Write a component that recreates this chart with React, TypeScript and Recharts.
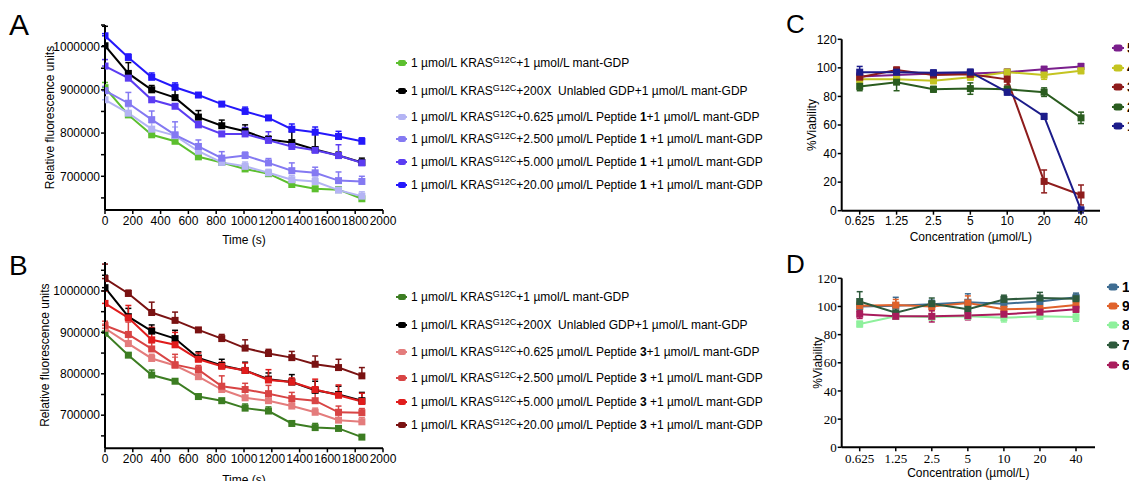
import { LineChart, Line, XAxis, YAxis, ErrorBar } from 'recharts';

const FONT = '"Liberation Sans", Arial, Helvetica, sans-serif';
const SERIF = '"Liberation Serif", "Times New Roman", serif';

// ---- time course panels (A, B) ----
const TIME_S = [0, 168, 336, 504, 672, 840, 1008, 1176, 1344, 1512, 1680, 1848];
const TIME_TICKS = [0, 200, 400, 600, 800, 1000, 1200, 1400, 1600, 1800, 2000];
const RFU_TICKS = [650000, 700000, 750000, 800000, 850000, 900000, 950000, 1000000, 1050000];
const RFU_LABELLED = [700000, 800000, 900000, 1000000];

// panel A (peptide 1)
const A_MANT = [905000, 842000, 796000, 781000, 745000, 732000, 717000, 706000, 681000, 671000, 669000, 648000];
const A_MANT_ERR = [12000, 5000, 5000, 5000, 5000, 5000, 10000, 5000, 5000, 5000, 5000, 5000];
const A_UNLABELED = [1002000, 938000, 900000, 882000, 837000, 817000, 804000, 785000, 778000, 762000, 748000, 732000];
const A_UNLABELED_ERR = [45000, 25000, 10000, 20000, 15000, 13000, 15000, 8000, 25000, 38000, 8000, 10000];
const A_P1_0625 = [877000, 846000, 809000, 794000, 758000, 732000, 723000, 708000, 692000, 688000, 668000, 654000];
const A_P1_0625_ERR = [20000, 15000, 15000, 20000, 15000, 12000, 10000, 8000, 10000, 10000, 8000, 10000];
const A_P1_2500 = [898000, 869000, 831000, 796000, 769000, 742000, 748000, 731000, 713000, 708000, 690000, 688000];
const A_P1_2500_ERR = [10000, 25000, 20000, 30000, 15000, 15000, 8000, 10000, 18000, 13000, 20000, 12000];
const A_P1_5000 = [955000, 927000, 877000, 862000, 819000, 798000, 798000, 783000, 769000, 760000, 748000, 731000];
const A_P1_5000_ERR = [15000, 5000, 5000, 5000, 8000, 5000, 15000, 20000, 5000, 5000, 25000, 5000];
const A_P1_2000 = [1025000, 975000, 929000, 906000, 888000, 867000, 850000, 835000, 809000, 802000, 792000, 781000];
const A_P1_2000_ERR = [5000, 8000, 10000, 10000, 5000, 5000, 10000, 5000, 12000, 12000, 12000, 8000];

// panel B (peptide 3)
const B_MANT = [898000, 845000, 797000, 782000, 745000, 735000, 717000, 710000, 680000, 670000, 668000, 647000];
const B_MANT_ERR = [5000, 5000, 12000, 5000, 5000, 5000, 10000, 10000, 5000, 10000, 5000, 5000];
const B_UNLABELED = [1008000, 938000, 903000, 885000, 838000, 820000, 808000, 787000, 780000, 760000, 750000, 735000];
const B_UNLABELED_ERR = [30000, 20000, 15000, 20000, 15000, 15000, 20000, 15000, 18000, 22000, 20000, 20000];
const B_P3_0625 = [910000, 873000, 837000, 820000, 793000, 762000, 742000, 735000, 722000, 707000, 688000, 684000];
const B_P3_0625_ERR = [10000, 15000, 10000, 20000, 10000, 10000, 15000, 15000, 10000, 10000, 12000, 10000];
const B_P3_2500 = [917000, 895000, 860000, 822000, 810000, 770000, 762000, 752000, 740000, 735000, 707000, 706000];
const B_P3_2500_ERR = [10000, 30000, 15000, 25000, 10000, 25000, 15000, 20000, 15000, 20000, 15000, 10000];
const B_P3_5000 = [970000, 935000, 882000, 870000, 835000, 818000, 808000, 785000, 780000, 762000, 748000, 733000];
const B_P3_5000_ERR = [30000, 30000, 30000, 30000, 15000, 10000, 18000, 25000, 10000, 25000, 25000, 20000];
const B_P3_2000 = [1030000, 994000, 948000, 929000, 906000, 885000, 862000, 849000, 839000, 823000, 815000, 795000];
const B_P3_2000_ERR = [35000, 8000, 25000, 20000, 5000, 10000, 20000, 10000, 15000, 20000, 20000, 20000];

// ---- viability panels (C, D) ----
const CONC = ['0.625', '1.25', '2.5', '5', '10', '20', '40'];
const VIAB_TICKS = [0, 20, 40, 60, 80, 100, 120];

const C_5 = [94, 95, 96, 96, 97, 99, 101];
const C_5_ERR = [3, 2, 2, 2, 2, 2, 2];
const C_4 = [92, 92, 91, 93.5, 97, 95, 98];
const C_4_ERR = [3, 3, 2, 2, 2, 3, 2];
const C_3 = [93.5, 98.5, 95, 95.5, 92, 20.5, 11];
const C_3_ERR = [3, 2, 3, 3, 4, 8, 7];
const C_2 = [87, 90, 85, 85.5, 85, 83, 65];
const C_2_ERR = [3, 6, 2, 4, 2, 3, 4];
const C_1 = [97, 97, 96.5, 97, 83, 66, 0.5];
const C_1_ERR = [4, 2, 2, 2, 2, 2, 2];

const D_10 = [100, 100.5, 101.5, 103, 102, 103.5, 106.5];
const D_10_ERR = [3, 6, 3, 6, 3, 3, 3];
const D_9 = [100.5, 101, 100, 102.5, 98, 98.5, 101];
const D_9_ERR = [3, 4, 3, 5, 3, 3, 4];
const D_8 = [87.5, 93, 92.5, 93, 92, 93, 92.5];
const D_8_ERR = [2, 2, 2, 2, 3, 2, 3];
const D_7 = [103.5, 95.5, 102, 98, 105, 106, 105.5];
const D_7_ERR = [7, 4, 4, 5, 3, 4, 3];
const D_6 = [94.5, 93, 93, 93.5, 94.5, 96, 98];
const D_6_ERR = [3, 2, 4, 3, 3, 2, 2];

const LEGEND_A = [
  ['+1 µmol/L mant-GDP'],
  ['+200X  Unlabled GDP+1 µmol/L mant-GDP'],
  ['+0.625 µmol/L Peptide ', '1', '+1 µmol/L mant-GDP'],
  ['+2.500 µmol/L Peptide ', '1', ' +1 µmol/L mant-GDP'],
  ['+5.000 µmol/L Peptide ', '1', ' +1 µmol/L mant-GDP'],
  ['+20.00 µmol/L Peptide ', '1', ' +1 µmol/L mant-GDP'],
];
const LEGEND_B = [
  ['+1 µmol/L mant-GDP'],
  ['+200X  Unlabled GDP+1 µmol/L mant-GDP'],
  ['+0.625 µmol/L Peptide ', '3', '+1 µmol/L mant-GDP'],
  ['+2.500 µmol/L Peptide ', '3', ' +1 µmol/L mant-GDP'],
  ['+5.000 µmol/L Peptide ', '3', ' +1 µmol/L mant-GDP'],
  ['+20.00 µmol/L Peptide ', '3', ' +1 µmol/L mant-GDP'],
];

type Series = { key: string; name: string; values: number[]; err: number[]; color: string };

const SERIES_A: Series[] = [
  { key: 'mant', name: 'mant', values: A_MANT, err: A_MANT_ERR, color: '#5cbf2e' },
  { key: 'unl', name: 'unl', values: A_UNLABELED, err: A_UNLABELED_ERR, color: '#000000' },
  { key: 'p0625', name: 'p0625', values: A_P1_0625, err: A_P1_0625_ERR, color: '#b4b4f4' },
  { key: 'p2500', name: 'p2500', values: A_P1_2500, err: A_P1_2500_ERR, color: '#8479f2' },
  { key: 'p5000', name: 'p5000', values: A_P1_5000, err: A_P1_5000_ERR, color: '#5b3cf2' },
  { key: 'p2000', name: 'p2000', values: A_P1_2000, err: A_P1_2000_ERR, color: '#2418fb' },
];
const SERIES_B: Series[] = [
  { key: 'mant', name: 'mant', values: B_MANT, err: B_MANT_ERR, color: '#3c7d22' },
  { key: 'unl', name: 'unl', values: B_UNLABELED, err: B_UNLABELED_ERR, color: '#000000' },
  { key: 'p0625', name: 'p0625', values: B_P3_0625, err: B_P3_0625_ERR, color: '#e47c7c' },
  { key: 'p2500', name: 'p2500', values: B_P3_2500, err: B_P3_2500_ERR, color: '#d84444' },
  { key: 'p5000', name: 'p5000', values: B_P3_5000, err: B_P3_5000_ERR, color: '#e01c1c' },
  { key: 'p2000', name: 'p2000', values: B_P3_2000, err: B_P3_2000_ERR, color: '#7a1212' },
];
const SERIES_C: Series[] = [
  { key: 'c5', name: '5', values: C_5, err: C_5_ERR, color: '#7a1f8c' },
  { key: 'c4', name: '4', values: C_4, err: C_4_ERR, color: '#c4c421' },
  { key: 'c3', name: '3', values: C_3, err: C_3_ERR, color: '#8e1c1c' },
  { key: 'c2', name: '2', values: C_2, err: C_2_ERR, color: '#2a5c1f' },
  { key: 'c1', name: '1', values: C_1, err: C_1_ERR, color: '#1c1c8a' },
];
const SERIES_D: Series[] = [
  { key: 'd10', name: '10', values: D_10, err: D_10_ERR, color: '#3f6d92' },
  { key: 'd9', name: '9', values: D_9, err: D_9_ERR, color: '#e0622b' },
  { key: 'd8', name: '8', values: D_8, err: D_8_ERR, color: '#8ef09c' },
  { key: 'd7', name: '7', values: D_7, err: D_7_ERR, color: '#2e5a3c' },
  { key: 'd6', name: '6', values: D_6, err: D_6_ERR, color: '#a91c5c' },
];

function buildRows(xs: (string | number)[], xKey: string, series: Series[], upperOnly: boolean) {
  return xs.map((xv, i) => {
    const row: Record<string, any> = { [xKey]: xv };
    series.forEach((s) => {
      row[s.key] = s.values[i];
      row[s.key + 'Err'] = upperOnly ? [0, s.err[i]] : s.err[i];
    });
    return row;
  });
}

const squareDot = (color: string, size: number) => (p: any) => {
  if (p.cx == null || p.cy == null) return <g key={`e-${p.index}`} />;
  return (
    <rect key={`d-${p.index}`} x={p.cx - size / 2} y={p.cy - size / 2} width={size} height={size} fill={color} />
  );
};

const axisLine = { stroke: '#000', strokeWidth: 2 };
const tickLine = { stroke: '#000', strokeWidth: 1.5 };

function TimeChart({ series, domain, top, bottom, yLabelX, xLabelOffset }: any) {
  const data = buildRows(TIME_S, 't', series, true);
  return (
    <LineChart width={400} height={250} data={data} margin={{ top, right: 17, bottom, left: 0 }}>
      <XAxis
        dataKey="t"
        type="number"
        domain={[0, 2000]}
        ticks={TIME_TICKS}
        interval={0}
        allowDataOverflow
        height={30}
        tickSize={4}
        tickMargin={2}
        axisLine={axisLine}
        tickLine={tickLine}
        tick={{ fill: '#000', fontSize: 12, fontFamily: FONT }}
        label={{ value: 'Time (s)', position: 'bottom', offset: xLabelOffset, style: { fill: '#000', fontSize: 12, fontFamily: FONT } }}
      />
      <YAxis
        type="number"
        domain={domain}
        ticks={RFU_TICKS}
        interval={0}
        allowDataOverflow
        width={105}
        tickSize={4}
        tickMargin={1}
        axisLine={axisLine}
        tickLine={tickLine}
        tickFormatter={(v: number) => (RFU_LABELLED.includes(v) ? String(v) : '')}
        tick={{ fill: '#000', fontSize: 12, fontFamily: FONT }}
        label={{
          value: 'Relative fluorescence units',
          angle: -90,
          position: 'insideLeft',
          offset: yLabelX,
          style: { textAnchor: 'middle', fill: '#000', fontSize: 12, fontFamily: FONT },
        }}
      />
      {series.map((s: Series) => (
        <Line
          key={s.key}
          dataKey={s.key}
          stroke={s.color}
          strokeWidth={2}
          dot={squareDot(s.color, 7)}
          activeDot={false}
          isAnimationActive={false}
        >
          <ErrorBar dataKey={s.key + 'Err'} direction="y" width={3} stroke={s.color} strokeWidth={1.5} />
        </Line>
      ))}
    </LineChart>
  );
}

function ViabilityChart({ series, right, top, bottom, serif, xLabelOffset, yLabelX }: any) {
  const data = buildRows(CONC, 'conc', series, false);
  const tickFont = serif ? { fill: '#000', fontSize: 13, fontFamily: SERIF } : { fill: '#000', fontSize: 12, fontFamily: FONT };
  return (
    <LineChart width={360} height={250} data={data} margin={{ top, right, bottom, left: 0 }}>
      <XAxis
        dataKey="conc"
        type="category"
        interval={0}
        padding={{ left: 18, right: 19 }}
        height={30}
        tickSize={4}
        tickMargin={2}
        axisLine={axisLine}
        tickLine={tickLine}
        tick={tickFont}
        label={{ value: 'Concentration (µmol/L)', position: 'bottom', offset: xLabelOffset, style: { fill: '#000', fontSize: 12, fontFamily: FONT } }}
      />
      <YAxis
        type="number"
        domain={[0, 120]}
        ticks={VIAB_TICKS}
        interval={0}
        allowDataOverflow
        width={81.7}
        tickSize={4}
        tickMargin={1}
        axisLine={axisLine}
        tickLine={tickLine}
        tick={tickFont}
        label={{
          value: '%Viability',
          angle: -90,
          position: 'insideLeft',
          offset: yLabelX,
          style: { textAnchor: 'middle', fill: '#000', fontSize: 12, fontFamily: FONT },
        }}
      />
      {series.map((s: Series) => (
        <Line
          key={s.key}
          dataKey={s.key}
          stroke={s.color}
          strokeWidth={2}
          dot={squareDot(s.color, 7)}
          activeDot={false}
          isAnimationActive={false}
        >
          <ErrorBar dataKey={s.key + 'Err'} direction="y" width={3} stroke={s.color} strokeWidth={1.5} />
        </Line>
      ))}
    </LineChart>
  );
}

function KrasLegend({ series, rows, tops, left }: any) {
  return (
    <>
      {series.map((s: Series, i: number) => (
        <div
          key={s.key}
          style={{
            position: 'absolute',
            left,
            top: tops[i] - 8,
            height: 16,
            display: 'flex',
            alignItems: 'center',
            whiteSpace: 'pre',
            fontSize: 12,
            color: '#000',
          }}
        >
          <svg width={14} height={8} style={{ marginRight: 1 }}>
            <line x1={0} y1={4} x2={11} y2={4} stroke={s.color} strokeWidth={2} />
            <rect x={2} y={1} width={8} height={6} rx={2} fill={s.color} />
          </svg>
          <span>
            1 µmol/L KRAS
            <span style={{ fontSize: 9, position: 'relative', top: -4 }}>G12C</span>
            {rows[i].map((part: string, j: number) =>
              j % 2 === 1 ? <b key={j}>{part}</b> : <span key={j}>{part}</span>,
            )}
          </span>
        </div>
      ))}
    </>
  );
}

function NumberLegend({ series, tops, left }: any) {
  return (
    <>
      {series.map((s: Series, i: number) => (
        <div
          key={s.key}
          style={{
            position: 'absolute',
            left,
            top: tops[i] - 8,
            height: 16,
            display: 'flex',
            alignItems: 'center',
            fontSize: 14,
            fontWeight: 'bold',
            color: '#000',
          }}
        >
          <svg width={14} height={8} style={{ marginRight: 1 }}>
            <line x1={0} y1={4} x2={12} y2={4} stroke={s.color} strokeWidth={2} />
            <rect x={1.5} y={0.5} width={9} height={7} rx={2.5} fill={s.color} />
          </svg>
          <span>{s.name}</span>
        </div>
      ))}
    </>
  );
}

export default function App() {
  return (
    <div
      style={{
        position: 'absolute',
        left: 0,
        top: 0,
        width: 1129,
        height: 481,
        overflow: 'hidden',
        background: '#fff',
        fontFamily: FONT,
      }}
    >
      <div style={{ position: 'absolute', left: 0, top: 0 }}>
        <TimeChart series={SERIES_A} domain={[622000, 1050000]} top={25} bottom={10} yLabelX={50} xLabelOffset={-5} />
      </div>
      <div style={{ position: 'absolute', left: 0, top: 240 }}>
        <TimeChart series={SERIES_B} domain={[620000, 1070000]} top={22} bottom={11.7} yLabelX={45} xLabelOffset={-3} />
      </div>
      <div style={{ position: 'absolute', left: 760, top: 0 }}>
        <ViabilityChart series={SERIES_C} right={20} top={39.3} bottom={9.3} xLabelOffset={-8} yLabelX={52} />
      </div>
      <div style={{ position: 'absolute', left: 760, top: 240 }}>
        <ViabilityChart series={SERIES_D} right={25} top={38.3} bottom={12.7} serif xLabelOffset={-9} yLabelX={58} />
      </div>

      <KrasLegend series={SERIES_A} rows={LEGEND_A} tops={[63, 91, 117, 139, 162, 185]} left={396} />
      <KrasLegend series={SERIES_B} rows={LEGEND_B} tops={[297, 325, 352, 378, 402, 425]} left={396} />
      <NumberLegend series={SERIES_C} tops={[48, 68, 87, 107, 126]} left={1112} />
      <NumberLegend series={SERIES_D} tops={[287, 306, 325, 345, 365]} left={1107} />

      <svg width={1129} height={481} style={{ position: 'absolute', left: 0, top: 0, pointerEvents: 'none' }}>
        <text x={9} y={34.5} fontSize={30} fontFamily={FONT} fill="#000">A</text>
        <text x={9} y={275} fontSize={28} fontFamily={FONT} fill="#000">B</text>
        <text x={786} y={33.3} fontSize={26} fontFamily={FONT} fill="#000">C</text>
        <text x={786} y={273.3} fontSize={26} fontFamily={FONT} fill="#000">D</text>
      </svg>
    </div>
  );
}
